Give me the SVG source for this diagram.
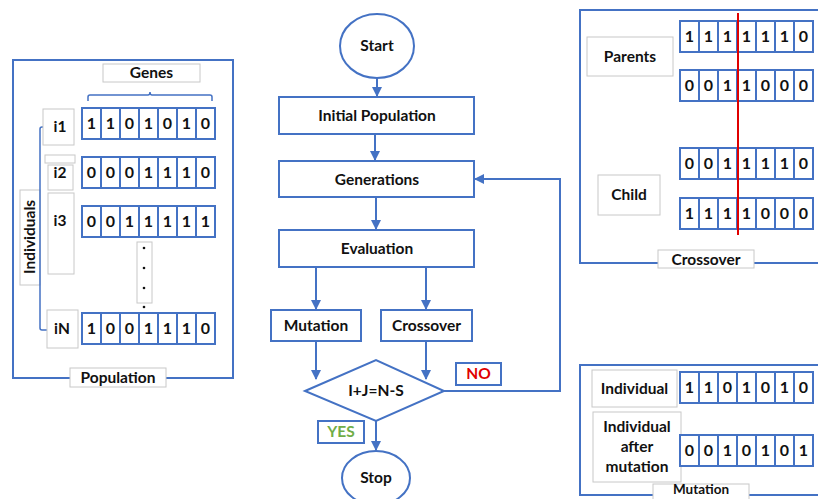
<svg xmlns="http://www.w3.org/2000/svg" xmlns:xlink="http://www.w3.org/1999/xlink" width="818" height="499" viewBox="0 0 818 499">
<style>
text{font-family:Lato,"Open Sans","Liberation Sans",sans-serif;font-weight:bold;fill:#111;}
.t14{font-size:15.5px;}
.bit{font-size:16px;}
.mid{text-anchor:middle;}
.panel{fill:none;stroke:#4472C4;stroke-width:2;}
.lbl{fill:#fff;stroke:#c8c8c8;stroke-width:1;}
.node{fill:#fff;stroke:#4472C4;stroke-width:2;}
.cell{fill:#fff;stroke:#4472C4;stroke-width:2;}
.conn{fill:none;stroke:#4472C4;stroke-width:2;}
.thin{fill:none;stroke:#4472C4;stroke-width:1.5;}
</style>
<defs>
<rect id="cell" class="cell" width="19" height="31"/>
<g id="row">
<use xlink:href="#cell" x="0"/><use xlink:href="#cell" x="19"/><use xlink:href="#cell" x="38"/><use xlink:href="#cell" x="57"/><use xlink:href="#cell" x="76"/><use xlink:href="#cell" x="95"/><use xlink:href="#cell" x="114"/>
</g>
<marker id="arr" viewBox="0 0 10 10" refX="9" refY="5" markerWidth="5" markerHeight="5" orient="auto" markerUnits="strokeWidth">
<path d="M0,0 L10,5 L0,10 z" fill="#4472C4"/>
</marker>
</defs>
<rect width="818" height="499" fill="#fff"/>

<!-- Population panel -->
<g id="population">
<rect class="panel" x="13" y="60" width="220" height="318"/>
<rect class="lbl" x="70" y="368" width="96" height="19"/>
<text class="t14 mid" x="118" y="383">Population</text>
<rect class="lbl" x="103" y="64" width="97" height="18"/>
<text class="t14 mid" x="151.5" y="78">Genes</text>
<path class="thin" d="M88,101 L88,97 Q88,95 90,95 L148,95 Q150,95 150,92 Q150,95 152,95 L210,95 Q212,95 212,97 L212,101"/>
<rect class="lbl" x="20" y="190" width="20" height="95"/>
<text class="t14 mid" transform="translate(35,237) rotate(-90)">Individuals</text>
<path class="thin" d="M48,127 L42,127 Q40,127 40,129 L40,328 Q40,330 42,330 L48,330"/>
<rect class="lbl" x="43" y="109" width="31" height="36"/>
<text class="t14 mid" x="60" y="132">i1</text>
<rect class="lbl" x="45" y="155" width="30" height="8"/>
<rect class="lbl" x="48" y="165" width="25" height="25"/>
<text class="t14 mid" x="60" y="178">i2</text>
<rect class="lbl" x="48" y="193" width="26" height="81"/>
<text class="t14 mid" x="60" y="226">i3</text>
<rect class="lbl" x="47" y="310" width="31" height="38"/>
<text class="t14 mid" x="62" y="334">iN</text>
<use xlink:href="#row" x="82" y="108"/>
<text class="bit mid" x="91.5 110.5 129.5 148.5 167.5 186.5 205.5" y="129">1101010</text>
<use xlink:href="#row" x="82" y="157"/>
<text class="bit mid" x="91.5 110.5 129.5 148.5 167.5 186.5 205.5" y="178">0001110</text>
<use xlink:href="#row" x="82" y="206"/>
<text class="bit mid" x="91.5 110.5 129.5 148.5 167.5 186.5 205.5" y="227">0011111</text>
<rect class="lbl" x="137" y="242" width="15" height="61"/>
<circle cx="144" cy="248" r="1.3" fill="#111"/>
<circle cx="144" cy="268" r="1.3" fill="#111"/>
<circle cx="144" cy="288" r="1.3" fill="#111"/>
<circle cx="144" cy="307" r="1.3" fill="#111"/>
<use xlink:href="#row" x="82" y="313"/>
<text class="bit mid" x="91.5 110.5 129.5 148.5 167.5 186.5 205.5" y="334">1001110</text>
</g>

<!-- Flowchart nodes -->
<g id="start">
<ellipse class="node" cx="377" cy="46" rx="37" ry="32"/>
<text class="t14 mid" x="377" y="51">Start</text>
</g>
<g id="initial">
<rect class="node" x="279" y="97" width="195" height="37"/>
<text class="t14 mid" x="377" y="121">Initial Population</text>
</g>
<g id="generations">
<rect class="node" x="279" y="161" width="195" height="36"/>
<text class="t14 mid" x="377" y="185">Generations</text>
</g>
<g id="evaluation">
<rect class="node" x="279" y="230" width="195" height="37"/>
<text class="t14 mid" x="377" y="254">Evaluation</text>
</g>
<g id="mutation">
<rect class="node" x="271" y="310" width="90" height="31"/>
<text class="t14 mid" x="316" y="331">Mutation</text>
</g>
<g id="crossover">
<rect class="node" x="381" y="310" width="91" height="31"/>
<text class="t14 mid" x="426.5" y="331">Crossover</text>
</g>
<g id="decision">
<polygon class="node" points="305,391 376,360 444,391 376,421"/>
<text class="t14 mid" x="376" y="396">I+J=N-S</text>
</g>
<g id="stop">
<ellipse class="node" cx="376" cy="478" rx="34" ry="27"/>
<text class="t14 mid" x="376" y="483">Stop</text>
</g>
<g id="no-label">
<rect class="node" x="456" y="363" width="45" height="22"/>
<text class="t14 mid" x="478.5" y="379" style="fill:#e00000">NO</text>
</g>
<g id="yes-label">
<rect class="node" x="318" y="421" width="46" height="22"/>
<text class="t14 mid" x="341" y="437" style="fill:#70AD47">YES</text>
</g>

<!-- Connectors -->
<g id="connectors">
<path class="conn" d="M377,78 L377,96" marker-end="url(#arr)"/>
<path class="conn" d="M375,134 L375,160" marker-end="url(#arr)"/>
<path class="conn" d="M376,197 L376,229" marker-end="url(#arr)"/>
<path class="conn" d="M316,267 L316,309" marker-end="url(#arr)"/>
<path class="conn" d="M426,267 L426,309" marker-end="url(#arr)"/>
<path class="conn" d="M316,341 L316,379" marker-end="url(#arr)"/>
<path class="conn" d="M426,341 L426,379" marker-end="url(#arr)"/>
<path class="conn" d="M376,421 L376,450" marker-end="url(#arr)"/>
<path class="conn" d="M444,391 L560,391 L560,179 L475,179" marker-end="url(#arr)"/>
</g>

<!-- Crossover panel -->
<g id="crossover-panel">
<rect class="panel" x="580" y="10" width="250" height="253"/>
<rect class="lbl" x="658" y="250" width="96" height="18"/>
<text class="t14 mid" x="706" y="265">Crossover</text>
<rect class="lbl" x="587" y="37" width="86" height="39"/>
<text class="t14 mid" x="630" y="62">Parents</text>
<rect class="lbl" x="598" y="175" width="62" height="40"/>
<text class="t14 mid" x="629" y="200">Child</text>
<use xlink:href="#row" x="680" y="21"/>
<text class="bit mid" x="689.5 708.5 727.5 746.5 765.5 784.5 803.5" y="42">1111110</text>
<use xlink:href="#row" x="680" y="70"/>
<text class="bit mid" x="689.5 708.5 727.5 746.5 765.5 784.5 803.5" y="91">0011000</text>
<use xlink:href="#row" x="680" y="148"/>
<text class="bit mid" x="689.5 708.5 727.5 746.5 765.5 784.5 803.5" y="169">0011110</text>
<use xlink:href="#row" x="680" y="198"/>
<text class="bit mid" x="689.5 708.5 727.5 746.5 765.5 784.5 803.5" y="219">1111000</text>
<line x1="738" y1="13" x2="738" y2="235" stroke="#e00000" stroke-width="2"/>
</g>

<!-- Mutation panel -->
<g id="mutation-panel">
<rect class="panel" x="580" y="365" width="250" height="130"/>
<rect class="lbl" x="653" y="484" width="96" height="20"/>
<text class="mid" x="701" y="494" style="font-size:13.5px">Mutation</text>
<rect class="lbl" x="592" y="370" width="85" height="37"/>
<text class="t14 mid" x="634.5" y="394">Individual</text>
<rect class="lbl" x="593" y="412" width="88" height="70"/>
<text class="t14 mid" x="637" y="432">Individual</text>
<text class="t14 mid" x="637" y="452">after</text>
<text class="t14 mid" x="637" y="472">mutation</text>
<use xlink:href="#row" x="680" y="372"/>
<text class="bit mid" x="689.5 708.5 727.5 746.5 765.5 784.5 803.5" y="393">1101010</text>
<use xlink:href="#row" x="680" y="435"/>
<text class="bit mid" x="689.5 708.5 727.5 746.5 765.5 784.5 803.5" y="456">0010101</text>
</g>
</svg>
